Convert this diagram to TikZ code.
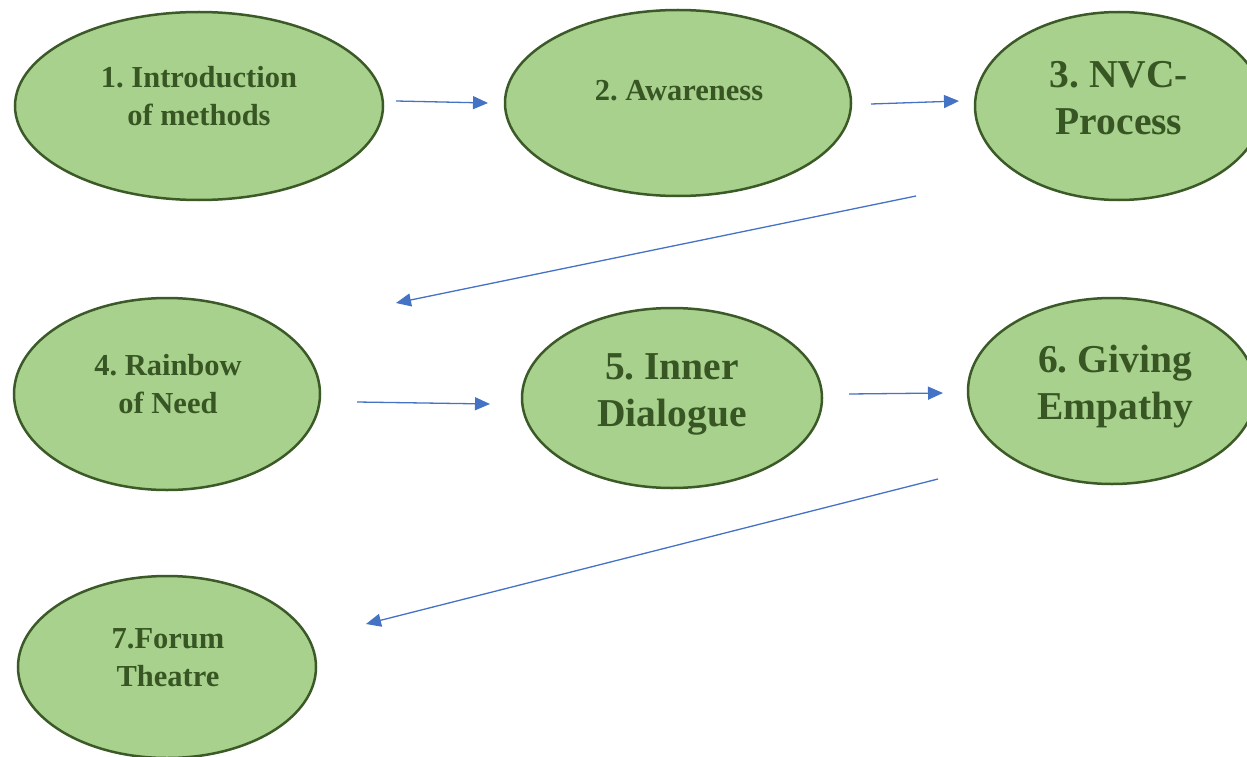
\documentclass[tikz,border=0pt]{standalone}
\usepackage{fontspec}
\setmainfont{Liberation Serif}
\usetikzlibrary{shapes.geometric,arrows.meta}
\definecolor{fillg}{HTML}{A9D18E}
\definecolor{lineg}{HTML}{3B5A27}
\definecolor{textg}{HTML}{375623}
\definecolor{arr}{HTML}{4472C4}
\frenchspacing
\begin{document}
\begin{tikzpicture}[x=1pt,y=-1pt,
 oval/.style={ellipse, draw=lineg, fill=fillg, line width=2.5pt, inner sep=0pt},
 lab/.style={text=textg, align=center, inner sep=0pt, anchor=base},
 small/.style={font=\fontsize{30.5}{38}\selectfont\bfseries},
 big/.style={font=\fontsize{39.5}{47}\selectfont\bfseries},
 conn/.style={draw=arr, line width=1.3pt, -{Triangle[length=15pt,width=13pt]}}]
\useasboundingbox (0,0) rectangle (1247,757);
\clip (0,0) rectangle (1247,757);
% ellipses
\node[oval, minimum width=368pt, minimum height=188pt] (e1) at (199,106) {};
\node[oval, minimum width=346pt, minimum height=186pt] (e2) at (678,103) {};
\node[oval, minimum width=288pt, minimum height=188pt] (e3) at (1119,106) {};
\node[oval, minimum width=306pt, minimum height=192pt] (e4) at (167,394) {};
\node[oval, minimum width=300pt, minimum height=180pt] (e5) at (672,398) {};
\node[oval, minimum width=288pt, minimum height=186pt] (e6) at (1112,391) {};
\node[oval, minimum width=298pt, minimum height=182pt] (e7) at (167,667) {};
% labels (anchor = baseline of last line)
\node[lab, small] (t1) at (199,125) {1. Introduction\\of methods};
\node[lab, small] (t2) at (679,101) {2. Awareness};
\node[lab, big] (t3) at (1119,135) {3. NVC-\\Process};
\node[lab, small] (t4) at (168,413) {4. Rainbow\\of Need};
\node[lab, big] (t5) at (672,426) {5. Inner\\Dialogue};
\node[lab, big] (t6) at (1115,419) {6. Giving\\Empathy};
\node[lab, small] (t7) at (168,686) {7.Forum\\Theatre};
% connector ends
\coordinate (a1s) at (396,101); \coordinate (a1e) at (488,103);
\coordinate (a2s) at (871,104); \coordinate (a2e) at (959,101);
\coordinate (a3s) at (916,196); \coordinate (a3e) at (396,303);
\coordinate (a4s) at (357,402); \coordinate (a4e) at (490,404);
\coordinate (a5s) at (849,394); \coordinate (a5e) at (943,393);
\coordinate (a6s) at (938,479); \coordinate (a6e) at (366,624);
\draw[conn] (a1s) -- (a1e);
\draw[conn] (a2s) -- (a2e);
\draw[conn] (a3s) -- (a3e);
\draw[conn] (a4s) -- (a4e);
\draw[conn] (a5s) -- (a5e);
\draw[conn] (a6s) -- (a6e);
\end{tikzpicture}
\end{document}
